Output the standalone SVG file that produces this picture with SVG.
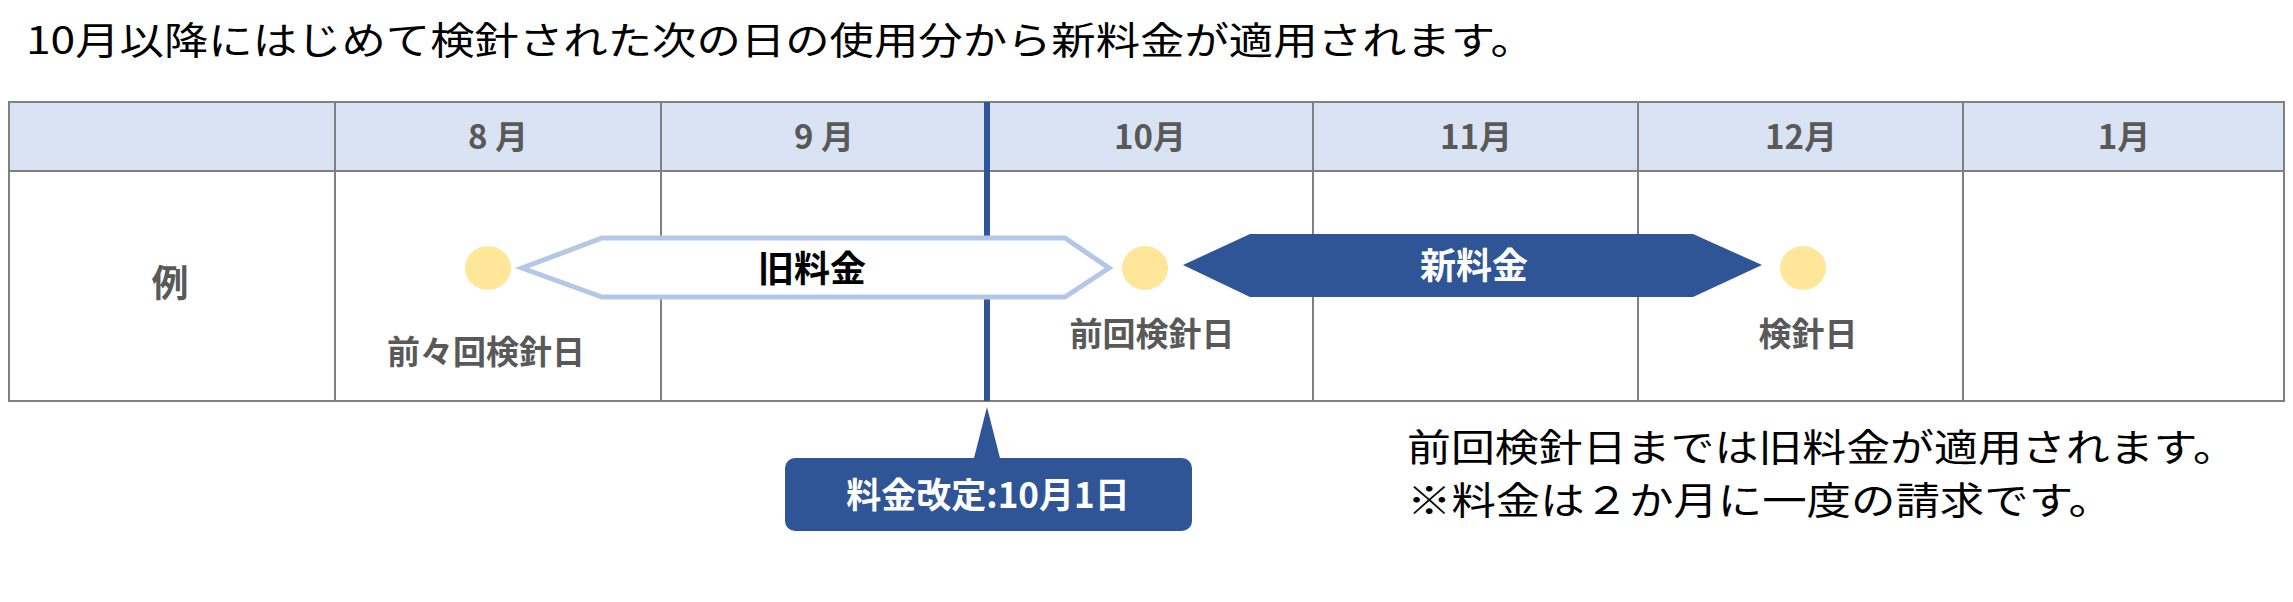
<svg xmlns="http://www.w3.org/2000/svg" width="2293" height="602" viewBox="0 0 2293 602">
<style>
text{font-family:"Noto Sans CJK JP","Noto Sans",sans-serif}
.t{font-size:38px;fill:#000}
.h{font-size:33px;font-weight:bold;fill:#595959;text-anchor:middle}
.l{font-size:33px;font-weight:bold;fill:#595959;text-anchor:middle}
.g{stroke:#808080;stroke-width:2;fill:none}
.dot{fill:#ffe699}
</style>
<rect width="2293" height="602" fill="#fff"/>
<text class="t" x="26" y="54" textLength="1509" lengthAdjust="spacingAndGlyphs">10月以降にはじめて検針された次の日の使用分から新料金が適用されます。</text>
<g id="table">
<rect x="9" y="102" width="2275" height="69" fill="#dae3f3"/>
<rect class="g" x="9" y="102" width="2275" height="299"/>
<line class="g" x1="9" y1="171" x2="2284" y2="171"/>
<line class="g" x1="335" y1="102" x2="335" y2="401"/>
<line class="g" x1="661" y1="102" x2="661" y2="401"/>
<line class="g" x1="1313" y1="102" x2="1313" y2="401"/>
<line class="g" x1="1638" y1="102" x2="1638" y2="401"/>
<line class="g" x1="1963" y1="102" x2="1963" y2="401"/>
<text class="h" x="498" y="149">8 月</text>
<text class="h" x="824" y="149">9 月</text>
<text class="h" x="1150" y="149">10月</text>
<text class="h" x="1476" y="149">11月</text>
<text class="h" x="1801" y="149">12月</text>
<text class="h" x="2124" y="149">1月</text>
<text x="170" y="297" style="font-size:37px;font-weight:bold;fill:#595959;text-anchor:middle">例</text>
</g>
<g id="connectors">
<line x1="987" y1="102" x2="987" y2="401" stroke="#2f5597" stroke-width="6"/>
</g>
<g id="old">
<polygon points="522,268 602,238 1065,238 1109,268 1065,297 602,297" fill="#fff" stroke="#b4c7e7" stroke-width="5"/>
<text x="812" y="282" style="font-size:36px;font-weight:bold;fill:#000;text-anchor:middle">旧料金</text>
</g>
<g id="new">
<polygon points="1183,265 1250,234 1693,234 1762,265 1693,297 1250,297" fill="#2f5597"/>
<text x="1474" y="279" style="font-size:36px;font-weight:bold;fill:#fff;text-anchor:middle">新料金</text>
</g>
<g id="dots">
<ellipse class="dot" cx="488" cy="268" rx="23" ry="22"/>
<ellipse class="dot" cx="1145" cy="268" rx="23" ry="22"/>
<ellipse class="dot" cx="1803" cy="268" rx="23" ry="22"/>
<text class="l" x="486" y="364">前々回検針日</text>
<text class="l" x="1152" y="346">前回検針日</text>
<text class="l" x="1808" y="346">検針日</text>
</g>
<g id="callout">
<polygon points="987,407 1001,462 973,462" fill="#2f5597"/>
<rect x="785" y="458" width="407" height="73" rx="10" fill="#2f5597"/>
<text x="988" y="508" style="font-size:35px;font-weight:bold;fill:#fff;text-anchor:middle">料金改定:10月1日</text>
</g>
<g id="note">
<text class="t" x="1407" y="461" textLength="830" lengthAdjust="spacingAndGlyphs">前回検針日までは旧料金が適用されます。</text>
<text class="t" x="1407" y="514" textLength="706" lengthAdjust="spacingAndGlyphs">※料金は２か月に一度の請求です。</text>
</g>
</svg>
